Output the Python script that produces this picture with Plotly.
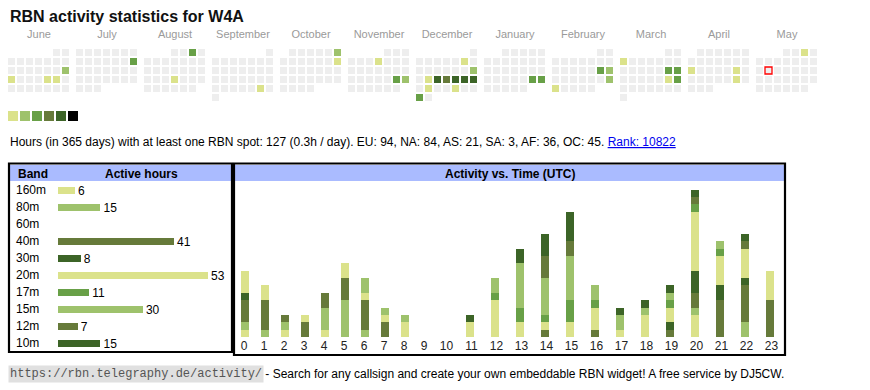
import datetime as dt
import plotly.graph_objects as go

W, H = 870, 390
FONT = "Liberation Sans, Arial, sans-serif"

# ---------------- data ----------------
title_text = "RBN activity statistics for W4A"
month_names = ["June", "July", "August", "September", "October", "November",
               "December", "January", "February", "March", "April", "May"]
month_years = [2024, 2024, 2024, 2024, 2024, 2024, 2024, 2025, 2025, 2025, 2025, 2025]
month_numbers = [6, 7, 8, 9, 10, 11, 12, 1, 2, 3, 4, 5]

active_dates = ["2024-06-16", "2024-06-17", "2024-06-21", "2024-06-22", "2024-07-14",
                "2024-08-03", "2024-08-22", "2024-09-28", "2024-10-06", "2024-10-13",
                "2024-11-07", "2024-11-23", "2024-11-24", "2024-12-07", "2024-12-15",
                "2024-12-17", "2024-12-18", "2024-12-19", "2024-12-20", "2024-12-21",
                "2024-12-22", "2024-12-24", "2024-12-27", "2024-12-30", "2025-01-25",
                "2025-01-26", "2025-02-15", "2025-02-16", "2025-02-23", "2025-02-24",
                "2025-03-03", "2025-03-15", "2025-03-16", "2025-03-22", "2025-03-23",
                "2025-04-14", "2025-04-19", "2025-04-26", "2025-05-03"]
active_levels = [2, 1, 1, 1, 3,
                 3, 1, 1, 2, 1,
                 1, 3, 2, 1, 2,
                 1, 5, 4, 5, 5,
                 5, 1, 1, 3, 3,
                 3, 3, 2, 2, 1,
                 1, 3, 3, 1, 3,
                 1, 1, 1, 1]
today_date = "2025-05-13"
level_colors = ["#eeeeee", "#dbe28b", "#9ec26c", "#68a047", "#667a3a", "#3c6427", "#000000"]

summary_text = ("Hours (in 365 days) with at least one RBN spot: 127 (0.3h / day). "
                "EU: 94, NA: 84, AS: 21, SA: 3, AF: 36, OC: 45. ")
rank_text = "Rank: 10822"

bands = ["160m", "80m", "60m", "40m", "30m", "20m", "17m", "15m", "12m", "10m"]
band_hours = [6, 15, 0, 41, 8, 53, 11, 30, 7, 15]
band_colors = ["#dbe28b", "#9ec26c", "#68a047", "#667a3a", "#3c6427",
               "#dbe28b", "#68a047", "#9ec26c", "#667a3a", "#3c6427"]

hours = list(range(24))
hour_labels = [str(h) for h in hours]
#              0  1  2  3  4  5  6  7  8  9 10 11 12 13 14 15 16 17 18 19 20 21 22 23
h_160m = [1, 0, 1, 0, 1, 0, 0, 0, 0, 0, 0, 0, 0, 0, 0, 0, 0, 0, 0, 0, 3, 0, 0, 0]
h_80m  = [1, 1, 1, 0, 3, 5, 1, 0, 0, 0, 0, 0, 0, 0, 0, 0, 0, 0, 0, 0, 1, 0, 2, 0]
h_60m  = [0, 0, 0, 0, 0, 0, 0, 0, 0, 0, 0, 0, 0, 0, 0, 0, 0, 0, 0, 0, 0, 0, 0, 0]
h_40m  = [3, 4, 1, 2, 2, 3, 4, 2, 0, 0, 0, 0, 0, 0, 1, 0, 1, 0, 0, 1, 2, 5, 5, 5]
h_30m  = [1, 0, 0, 0, 0, 0, 0, 0, 0, 0, 0, 0, 0, 0, 0, 0, 0, 0, 0, 1, 3, 2, 1, 0]
h_20m  = [3, 2, 0, 1, 0, 2, 1, 1, 2, 0, 0, 2, 5, 2, 1, 2, 3, 1, 3, 2, 8, 4, 4, 4]
h_17m  = [0, 0, 0, 0, 0, 0, 0, 0, 0, 0, 0, 0, 1, 2, 1, 3, 1, 0, 0, 1, 1, 1, 0, 0]
h_15m  = [0, 0, 0, 0, 0, 0, 2, 1, 1, 0, 0, 0, 2, 6, 5, 6, 2, 2, 1, 1, 0, 1, 0, 0]
h_12m  = [0, 0, 0, 0, 0, 0, 0, 0, 0, 0, 0, 0, 0, 0, 3, 2, 0, 0, 0, 0, 1, 0, 1, 0]
h_10m  = [0, 0, 0, 0, 0, 0, 0, 0, 0, 0, 0, 1, 0, 2, 3, 4, 0, 1, 1, 1, 1, 0, 1, 0]
hour_series = [h_160m, h_80m, h_60m, h_40m, h_30m, h_20m, h_17m, h_15m, h_12m, h_10m]

footer_url = "https://rbn.telegraphy.de/activity/"
footer_text = " - Search for any callsign and create your own embeddable RBN widget! A free service by DJ5CW."

# ---------------- layout geometry (pixels) ----------------
CAL_X0, CAL_Y0, MONTH_STEP, CELL_STEP, CELL = 8, 49, 68, 9, 7

level_by_date = dict(zip(active_dates, active_levels))
cx, cy, cc = [], [], []
tx, ty = [], []
for m, (yr, mo) in enumerate(zip(month_years, month_numbers)):
    first = dt.date(yr, mo, 1)
    nxt = dt.date(yr + (mo == 12), mo % 12 + 1, 1)
    wd0 = first.weekday()
    for d in range((nxt - first).days):
        idx = wd0 + d
        col, row = idx % 7, idx // 7
        x = CAL_X0 + MONTH_STEP * m + CELL_STEP * col + CELL / 2
        y = CAL_Y0 + CELL_STEP * row + CELL / 2
        key = (first + dt.timedelta(days=d)).isoformat()
        cx.append(x); cy.append(y)
        cc.append(level_colors[level_by_date.get(key, 0)])
        if key == today_date:
            tx.append(x); ty.append(y)

month_label_x = [CAL_X0 + MONTH_STEP * m + 31 for m in range(len(month_names))]

# hour columns behave like table cells: width depends on the label length
col_left, col_w = [], []
left = 234.0
for lab in hour_labels:
    w = 20 if len(lab) == 1 else 25
    col_left.append(left); col_w.append(w)
    left += w
hour_bar_x = [l + 6.5 + 4 for l in col_left]
hour_label_x = [l + w / 2 for l, w in zip(col_left, col_w)]

fig = go.Figure()

# calendar cells
fig.add_trace(go.Scatter(x=cx, y=cy, mode="markers", xaxis="x", yaxis="y",
                         marker=dict(symbol="square", size=CELL, color=cc, line=dict(width=0)),
                         hoverinfo="skip", showlegend=False))
fig.add_trace(go.Scatter(x=tx, y=ty, mode="markers", xaxis="x", yaxis="y",
                         marker=dict(symbol="square", size=CELL, color="#eeeeee",
                                     line=dict(width=1.3, color="#ff0000")),
                         hoverinfo="skip", showlegend=False))
# month labels
fig.add_trace(go.Scatter(x=month_label_x, y=[35] * len(month_names), mode="text",
                         text=month_names, textposition="middle center",
                         textfont=dict(family=FONT, size=11, color="#9a9a9a"),
                         xaxis="x", yaxis="y", hoverinfo="skip", showlegend=False))
# colour legend
legend_levels = [1, 2, 3, 4, 5, 6]
fig.add_trace(go.Scatter(x=[13 + 12 * i for i in range(len(legend_levels))],
                         y=[116] * len(legend_levels), mode="markers",
                         marker=dict(symbol="square", size=10,
                                     color=[level_colors[l] for l in legend_levels],
                                     line=dict(width=0)),
                         xaxis="x", yaxis="y", hoverinfo="skip", showlegend=False))

# band labels
ROW0, ROWSTEP = 189.3, 16.97
fig.add_trace(go.Scatter(x=[16] * len(bands), y=[ROW0 + 1.5 + ROWSTEP * i for i in range(len(bands))],
                         mode="text", text=bands, textposition="middle right",
                         textfont=dict(family=FONT, size=12, color="#000"),
                         xaxis="x", yaxis="y", hoverinfo="skip", showlegend=False, cliponaxis=False))
# band bars
fig.add_trace(go.Bar(x=band_hours, y=bands, orientation="h", xaxis="x2", yaxis="y2",
                     marker=dict(color=band_colors, line=dict(width=0)), width=0.41,
                     text=[str(v) if v else "" for v in band_hours], textposition="outside",
                     constraintext="none", cliponaxis=False,
                     textfont=dict(family=FONT, size=12, color="#000"),
                     hoverinfo="skip", showlegend=False))

# hour stacked bars
for b, series, col in zip(bands, hour_series, band_colors):
    fig.add_trace(go.Bar(x=hour_bar_x, y=series, xaxis="x3", yaxis="y3", name=b,
                         marker=dict(color=col, line=dict(width=0)), width=8,
                         hoverinfo="skip", showlegend=False))
# hour labels
fig.add_trace(go.Scatter(x=hour_label_x, y=[346.5] * 24, mode="text",
                         text=hour_labels, textposition="middle center",
                         textfont=dict(family=FONT, size=12, color="#222"),
                         xaxis="x", yaxis="y", hoverinfo="skip", showlegend=False, cliponaxis=False))


def py(y):
    return 1 - y / H


shapes = [
    # header fills
    dict(type="rect", xref="x", yref="y", x0=10, x1=231, y0=165, y1=181,
         fillcolor="#aabbff", line=dict(width=0), layer="below"),
    dict(type="rect", xref="x", yref="y", x0=235, x1=784, y0=165, y1=181,
         fillcolor="#aabbff", line=dict(width=0), layer="below"),
    # boxes
    dict(type="rect", xref="x", yref="y", x0=9, x1=232, y0=163.5, y1=352,
         line=dict(color="#000", width=2.2), fillcolor="rgba(0,0,0,0)"),
    dict(type="rect", xref="x", yref="y", x0=234, x1=785, y0=163.5, y1=355,
         line=dict(color="#000", width=2.2), fillcolor="rgba(0,0,0,0)"),
]

annotations = [
    dict(x=8, y=16, xref="x", yref="y", xanchor="left", yanchor="middle", showarrow=False,
         text="<b>" + title_text + "</b>", font=dict(family=FONT, size=16, color="#111")),
    dict(x=8, y=142, xref="x", yref="y", xanchor="left", yanchor="middle", showarrow=False,
         text=summary_text + "<span style='color:#0000ee'><u>" + rank_text + "</u></span>",
         font=dict(family=FONT, size=12, color="#000")),
    dict(x=16, y=173.5, xref="x", yref="y", xanchor="left", yanchor="middle", showarrow=False,
         text="<b>Band</b>", font=dict(family=FONT, size=12, color="#000")),
    dict(x=141.7, y=173.5, xref="x", yref="y", xanchor="center", yanchor="middle", showarrow=False,
         text="<b>Active hours</b>", font=dict(family=FONT, size=12, color="#000")),
    dict(x=509.5, y=173.5, xref="x", yref="y", xanchor="center", yanchor="middle", showarrow=False,
         text="<b>Activity vs. Time (UTC)</b>", font=dict(family=FONT, size=12, color="#000")),
    dict(x=8, y=374, xref="x", yref="y", xanchor="left", yanchor="middle", showarrow=False,
         text=footer_url, bgcolor="#e0e0e0", borderpad=1,
         font=dict(family="Liberation Mono, monospace", size=12, color="#555")),
    dict(x=260, y=374, xref="x", yref="y", xanchor="left", yanchor="middle", showarrow=False,
         text=footer_text, font=dict(family=FONT, size=12, color="#000")),
]

hidden = dict(visible=False, showgrid=False, zeroline=False, fixedrange=True)
fig.update_layout(
    width=W, height=H, margin=dict(l=0, r=0, t=0, b=0),
    paper_bgcolor="white", plot_bgcolor="rgba(0,0,0,0)",
    barmode="stack", bargap=0,
    xaxis=dict(domain=[0, 1], range=[0, W], anchor="y", **hidden),
    yaxis=dict(domain=[0, 1], range=[H, 0], anchor="x", **hidden),
    xaxis2=dict(domain=[58 / W, 208 / W], range=[0, 53], anchor="y2", **hidden),
    yaxis2=dict(domain=[py(ROW0 + 1.5 + ROWSTEP * 9.5), py(ROW0 + 1.5 - ROWSTEP * 0.5)],
                type="category", categoryorder="array", categoryarray=bands,
                range=[9.5, -0.5], anchor="x2", **hidden),
    xaxis3=dict(domain=[0, 1], range=[0, W], anchor="y3", **hidden),
    yaxis3=dict(domain=[py(337), py(189.5)], range=[0, 20], anchor="x3", **hidden),
    shapes=shapes, annotations=annotations,
    showlegend=False,
)

fig.write_html("out.html", config={"displayModeBar": False, "staticPlot": True},
               post_script="document.body.style.margin='0';document.body.style.overflow='hidden';")
